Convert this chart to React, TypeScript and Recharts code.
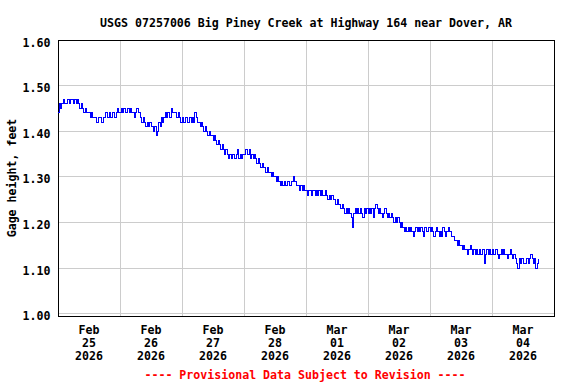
import {
    LineChart,
    Line,
    XAxis,
    YAxis,
    CartesianGrid,
    ReferenceArea
} from 'recharts'

// gage height readings, hundredths of a foot, every 30 minutes from midnight
const feb25 = [
    144, 146, 145, 146, 147, 146, 146, 147,
    147, 146, 147, 147, 146, 147, 146, 147,
    146, 145, 146, 145, 144, 145, 144, 144,
    144, 143, 144, 143, 143, 143, 142, 143,
    143, 143, 142, 143, 143, 144, 143, 143,
    144, 143, 144, 144, 143, 144, 145, 144
]
const feb26 = [
    144, 145, 144, 145, 144, 144, 145, 144,
    145, 144, 144, 143, 144, 145, 144, 144,
    143, 142, 143, 142, 141, 142, 141, 142,
    141, 141, 140, 141, 139, 140, 142, 141,
    143, 142, 143, 144, 143, 144, 143, 143,
    145, 144, 144, 144, 143, 144, 143, 142
]
const feb27 = [
    143, 142, 142, 143, 142, 142, 143, 142,
    143, 142, 144, 143, 142, 142, 141, 142,
    141, 140, 141, 140, 139, 140, 139, 139,
    138, 139, 138, 137, 138, 137, 136, 137,
    136, 135, 136, 135, 134, 135, 134, 135,
    135, 134, 135, 136, 134, 135, 134, 135
]
const feb28 = [
    135, 136, 136, 135, 136, 134, 135, 134,
    135, 134, 133, 134, 133, 132, 133, 132,
    132, 131, 132, 131, 131, 130, 131, 130,
    130, 129, 130, 129, 128, 129, 128, 129,
    128, 128, 129, 128, 128, 129, 130, 129,
    129, 128, 128, 127, 128, 127, 128, 127
]
const mar01 = [
    127, 126, 127, 127, 126, 127, 127, 126,
    127, 126, 127, 126, 127, 126, 126, 127,
    126, 125, 126, 125, 126, 125, 125, 124,
    125, 124, 124, 123, 124, 123, 122, 123,
    122, 123, 122, 121, 119, 122, 123, 122,
    123, 122, 123, 122, 121, 123, 122, 123
]
const mar02 = [
    122, 123, 122, 123, 121, 123, 124, 123,
    122, 123, 122, 121, 122, 123, 122, 121,
    122, 121, 122, 121, 120, 121, 120, 121,
    120, 119, 120, 119, 118, 119, 118, 119,
    118, 119, 118, 117, 118, 119, 118, 119,
    118, 119, 118, 117, 119, 118, 118, 119
]
const mar03 = [
    118, 119, 118, 117, 118, 119, 118, 117,
    118, 117, 119, 118, 117, 118, 119, 118,
    118, 117, 117, 116, 116, 115, 116, 115,
    115, 114, 115, 114, 114, 113, 114, 115,
    114, 113, 114, 113, 114, 113, 114, 113,
    113, 114, 111, 113, 114, 113, 114, 113
]
const mar04 = [
    114, 113, 113, 114, 113, 112, 113, 114,
    113, 114, 113, 113, 112, 113, 114, 113,
    112, 113, 112, 111, 110, 112, 111, 112,
    111, 111, 111, 112, 111, 112, 113, 112,
    111, 112, 110, 111, 112
]

const dayMonths = ['Feb', 'Feb', 'Feb', 'Feb', 'Mar', 'Mar', 'Mar', 'Mar']
const dayNumbers = ['25', '26', '27', '28', '01', '02', '03', '04']
const dayYear = '2026'
const yTicks = [1.0, 1.1, 1.2, 1.3, 1.4, 1.5, 1.6]
const labelTicks = [0.5, 1.5, 2.5, 3.5, 4.5, 5.5, 6.5, 7.5]
const gridTicks = [0, 1, 2, 3, 4, 5, 6, 7, 8]

const readings = [feb25, feb26, feb27, feb28, mar01, mar02, mar03, mar04].flat()
const data = readings.map((v, i) => ({ t: i / 48, h: v / 100 }))

const font = '"DejaVu Sans Mono", monospace'

function DayTick(props: any) {
    const { x, y, payload } = props
    const i = Math.floor(payload.value)
    return (
        <text x={x} textAnchor="middle" fontFamily={font} fontWeight="bold" fontSize={11.6} fill="#000">
            <tspan x={x} y={y + 18}>{dayMonths[i]}</tspan>
            <tspan x={x} y={y + 31}>{dayNumbers[i]}</tspan>
            <tspan x={x} y={y + 43.5}>{dayYear}</tspan>
        </text>
    )
}

function GageTick(props: any) {
    const { x, y, payload } = props
    return (
        <text x={x - 7.5} y={y + 6.5} textAnchor="end" fontFamily={font} fontWeight="bold" fontSize={11.6} fill="#000">
            {payload.value.toFixed(2)}
        </text>
    )
}

export default function App() {
    return (
        <div style={{ position: 'absolute', left: 0, top: 0, width: 576, height: 384, background: '#fff', shapeRendering: 'crispEdges' }}>
            <LineChart width={576} height={384} data={data} margin={{ top: 40, right: 22, left: 8, bottom: 0 }}>
                <XAxis xAxisId="grid" type="number" dataKey="t" domain={[0, 8]} ticks={gridTicks} hide />
                <CartesianGrid xAxisId="grid" stroke="#cccccc" strokeWidth={1} />
                <XAxis
                    type="number"
                    dataKey="t"
                    domain={[0, 8]}
                    ticks={labelTicks}
                    tick={<DayTick />}
                    tickLine={false}
                    axisLine={false}
                    tickSize={0}
                    tickMargin={0}
                    height={68}
                    interval={0}
                />
                <YAxis
                    type="number"
                    domain={[0.995, 1.6]}
                    ticks={yTicks}
                    tick={<GageTick />}
                    tickLine={false}
                    axisLine={false}
                    tickSize={0}
                    tickMargin={0}
                    width={50}
                    interval={0}
                />
                <ReferenceArea x1={0} x2={8} y1={0.995} y2={1.6} fill="none" stroke="#000" strokeWidth={1} />
                <Line
                    type="stepAfter"
                    dataKey="h"
                    stroke="#0000ff"
                    strokeWidth={1}
                    dot={false}
                    isAnimationActive={false}
                />
            </LineChart>
            <svg width={576} height={384} style={{ position: 'absolute', left: 0, top: 0, pointerEvents: 'none' }}>
                <text x={306} y={26.5} textAnchor="middle" fontFamily={font} fontWeight="bold" fontSize={11.6} fill="#000">
                    USGS 07257006 Big Piney Creek at Highway 164 near Dover, AR
                </text>
                <text transform="translate(15.5,178) rotate(-90)" textAnchor="middle" fontFamily={font} fontWeight="bold" fontSize={11.6} fill="#000">
                    Gage height, feet
                </text>
                <text x={305} y={379} textAnchor="middle" fontFamily={font} fontWeight="bold" fontSize={11.6} fill="#ff0000">
                    ---- Provisional Data Subject to Revision ----
                </text>
            </svg>
        </div>
    )
}
